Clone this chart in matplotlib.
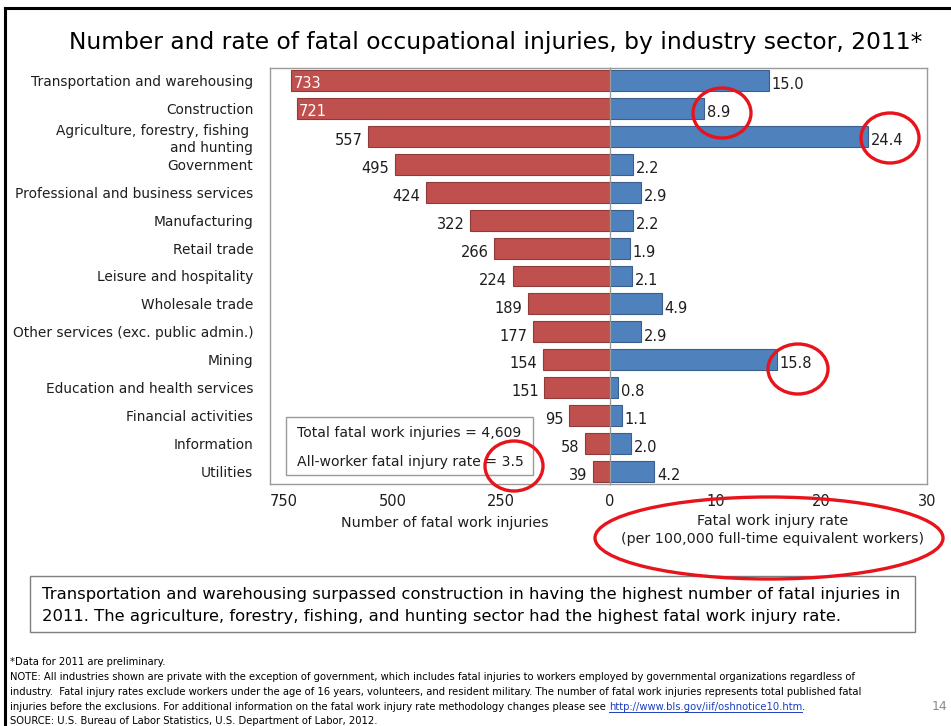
import matplotlib
matplotlib.use("Agg")
import matplotlib.pyplot as plt
from matplotlib.patches import Rectangle, Ellipse
from matplotlib.lines import Line2D

plt.rcParams['font.family'] = ['DejaVu Sans']

# ---------------- data ----------------
industries = [
    "Transportation and warehousing",
    "Construction",
    "Agriculture, forestry, fishing \nand hunting",
    "Government",
    "Professional and business services",
    "Manufacturing",
    "Retail trade",
    "Leisure and hospitality",
    "Wholesale trade",
    "Other services (exc. public admin.)",
    "Mining",
    "Education and health services",
    "Financial activities",
    "Information",
    "Utilities",
]
fatal_counts = [733, 721, 557, 495, 424, 322, 266, 224, 189, 177, 154, 151, 95, 58, 39]
fatal_rates = [15.0, 8.9, 24.4, 2.2, 2.9, 2.2, 1.9, 2.1, 4.9, 2.9, 15.8, 0.8, 1.1, 2.0, 4.2]
count_ticks = [750, 500, 250]
rate_ticks = [0, 10, 20, 30]

title = "Number and rate of fatal occupational injuries, by industry sector, 2011*"
box_lines = ["Total fatal work injuries = 4,609", "All-worker fatal injury rate = 3.5"]
summary_lines = [
    "Transportation and warehousing surpassed construction in having the highest number of fatal injuries in",
    "2011. The agriculture, forestry, fishing, and hunting sector had the highest fatal work injury rate.",
]
note_lines = [
    "*Data for 2011 are preliminary.",
    "NOTE: All industries shown are private with the exception of government, which includes fatal injuries to workers employed by governmental organizations regardless of",
    "industry.  Fatal injury rates exclude workers under the age of 16 years, volunteers, and resident military. The number of fatal work injuries represents total published fatal",
    "injuries before the exclusions. For additional information on the fatal work injury rate methodology changes please see ",
    "SOURCE: U.S. Bureau of Labor Statistics, U.S. Department of Labor, 2012.",
]
link_text = "http://www.bls.gov/iif/oshnotice10.htm"

# ---------------- styling ----------------
W, H = 951, 726
RED, RED_E = "#C0504D", "#8E3B39"
BLUE, BLUE_E = "#4F81BD", "#3A5F8C"
FRAME = "#9A9A9A"
TXT = "#1E1E1E"

def fx(px):
    return px / W

def fy(py):
    return 1 - py / H

fig = plt.figure(figsize=(W / 100, H / 100), dpi=100)
fig.patch.set_facecolor("white")

top, bottom = 68, 484
axL = fig.add_axes([fx(270), fy(bottom), (610 - 270) / W, (bottom - top) / H])
axR = fig.add_axes([fx(610), fy(bottom), (927 - 610) / W, (bottom - top) / H])

ypos = list(range(len(industries)))

axL.barh(ypos, fatal_counts, height=0.75, color=RED, edgecolor=RED_E, linewidth=0.8)
axR.barh(ypos, fatal_rates, height=0.75, color=BLUE, edgecolor=BLUE_E, linewidth=0.8)

axL.set_xlim(782, 0)
axR.set_xlim(0, 30)
for ax in (axL, axR):
    ax.set_ylim(len(industries) - 0.55, -0.45)
    for s in ax.spines.values():
        s.set_color(FRAME)
        s.set_linewidth(1.0)
    ax.tick_params(axis="x", length=0, pad=7, labelsize=10.5, labelcolor=TXT)

axL.spines["right"].set_visible(False)
axL.set_xticks(count_ticks)
axL.set_yticks(ypos)
axL.set_yticklabels(industries, fontsize=9.9, color=TXT, linespacing=1.25)
axL.tick_params(axis="y", length=0, pad=12)

axR.set_xticks(rate_ticks)
axR.set_yticks([])

# value labels
for i, v in enumerate(fatal_counts):
    if v > 700:
        axL.annotate(str(v), xy=(v, i), xytext=(1.5, -2), textcoords="offset points",
                     ha="left", va="center", color="white", fontsize=10.5)
    else:
        axL.annotate(str(v), xy=(v, i), xytext=(-4, -3), textcoords="offset points",
                     ha="right", va="center", color=TXT, fontsize=10.5)
for i, v in enumerate(fatal_rates):
    axR.annotate(f"{v:.1f}", xy=(v, i), xytext=(2, -3), textcoords="offset points",
                 ha="left", va="center", color=TXT, fontsize=10.5)

# axis titles
fig.text(fx(445), fy(523), "Number of fatal work injuries", ha="center", va="center",
         fontsize=10.3, color=TXT)
fig.text(fx(773), fy(530), "Fatal work injury rate\n(per 100,000 full-time equivalent workers)",
         ha="center", va="center", fontsize=10.3, color=TXT, linespacing=1.3)

# info box
fig.add_artist(Rectangle((fx(286), fy(475)), (533 - 286) / W, (475 - 417) / H,
                         transform=fig.transFigure, facecolor="white", edgecolor=FRAME, lw=1.0))
fig.text(fx(297), fy(433), box_lines[0], ha="left", va="center", fontsize=10.1, color=TXT)
fig.text(fx(297), fy(462), box_lines[1], ha="left", va="center", fontsize=10.1, color=TXT)

# title
fig.text(fx(496), fy(42), title, ha="center", va="center", fontsize=16.8, color="black")

# summary box
fig.add_artist(Rectangle((fx(30), fy(632)), (915 - 30) / W, (632 - 576) / H,
                         transform=fig.transFigure, facecolor="white", edgecolor="#7F7F7F", lw=1.0))
fig.text(fx(42), fy(594), summary_lines[0], ha="left", va="center", fontsize=11.8, color="black")
fig.text(fx(42), fy(616), summary_lines[1], ha="left", va="center", fontsize=11.8, color="black")

# notes
note_y = [662, 677, 692, 707, 721]
note_texts = []
for t, y in zip(note_lines, note_y):
    note_texts.append(fig.text(fx(10), fy(y), t, ha="left", va="center", fontsize=7.2, color="black"))
link = fig.text(0, 0, link_text, fontsize=7.2, color="#1F3FBF", ha="left", va="center")
renderer = fig.canvas.get_renderer()
bb = note_texts[3].get_window_extent(renderer)
link.set_position((bb.x1 / W, fy(707)))
lb = link.get_window_extent(renderer)
fig.add_artist(Line2D([lb.x0 / W, lb.x1 / W], [(lb.y0 + 0.5) / H] * 2,
                      transform=fig.transFigure, color="#1F3FBF", lw=0.7))
fig.text(lb.x1 / W, fy(707), ".", fontsize=7.2, color="black", ha="left", va="center")

fig.text(fx(940), fy(707), "14", fontsize=9, color="#8A8A8A", ha="center", va="center")

# slide border
fig.add_artist(Line2D([fx(5), 1.0], [fy(8), fy(8)], transform=fig.transFigure, color="black", lw=2.2))
fig.add_artist(Line2D([fx(5), fx(5)], [fy(8), 0.0], transform=fig.transFigure, color="black", lw=2.2))

# red highlight ellipses (pixel centres, widths, heights)
highlights = [(722, 113, 58, 50), (890, 138, 58, 50), (798, 369, 60, 50),
              (514, 466, 58, 50), (769, 538, 348, 82)]
for cx, cy, w, h in highlights:
    fig.add_artist(Ellipse((fx(cx), fy(cy)), w / W, h / H, transform=fig.transFigure,
                           fill=False, edgecolor="#E8141B", lw=2.4))

fig.savefig("out.png", dpi=100)
